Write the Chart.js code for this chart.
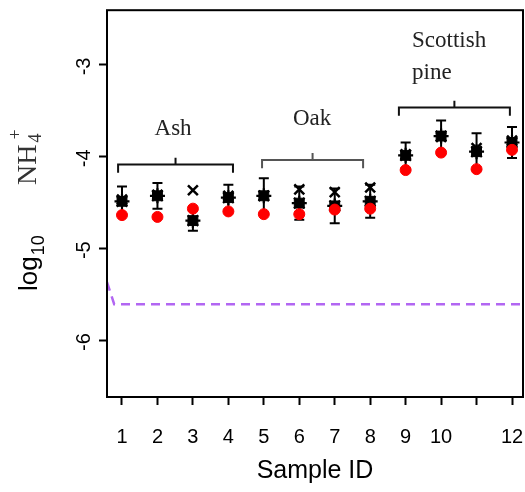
<!DOCTYPE html>
<html><head><meta charset="utf-8">
<script src="https://cdn.jsdelivr.net/npm/chart.js@4.4.1/dist/chart.umd.min.js"></script>
<style>html,body{margin:0;padding:0;background:#fff}#wrap{width:525px;height:492px}</style>
</head><body><div id="wrap"><canvas id="c" width="525" height="492"></canvas></div>
<script>
// ---- data ----
const sampleIds = [1,2,3,4,5,6,7,8,9,10,11,12];
const xTickLabels = ['1','2','3','4','5','6','7','8','9','10','','12'];
const yTickValues = [-3,-4,-5,-6];
const meanValues  = [-4.49,-4.43,-4.70,-4.45,-4.43,-4.51,-4.54,-4.49,-3.99,-3.78,-3.95,-3.85];
const errorValues = [0.16,0.14,0.11,0.14,0.19,0.18,0.19,0.18,0.14,0.17,0.20,0.17];
const crossValues = [-4.47,-4.42,-4.37,-4.43,-4.43,-4.36,-4.39,-4.34,-3.98,-3.79,-3.91,-3.83];
const redValues   = [-4.64,-4.66,-4.57,-4.60,-4.63,-4.63,-4.58,-4.57,-4.15,-3.96,-4.14,-3.93];
const baselineX = [0.577,0.78,12.31];
const baselineY = [-5.37,-5.61,-5.61];
const groupNames = ['Ash','Oak','Scottish pine'];
const groupRanges = [[0.89,4.13],[4.95,7.80],[8.81,11.94]];
const groupBracketY = [-4.09,-4.04,-3.47];

// ---- annotation layout (in data units) ----
const bracketEndDrop = 0.09, bracketMidRise = 0.075;
const groupLabelPos = [{x:2.44,y:-3.70,align:'center'},{x:6.36,y:-3.59,align:'center'},{x:9.18,y:-2.74,align:'left'}];
const bracketColors = ['#111','#555','#111'];

const pts = (ys)=>sampleIds.map((x,i)=>({x:x,y:ys[i]}));

const overlay = {
  id:'overlay',
  beforeDatasetsDraw(chart){
    const {ctx, scales:{x,y}} = chart;
    ctx.save();
    ctx.strokeStyle='#000'; ctx.lineWidth=2;
    sampleIds.forEach((s,i)=>{
      const px = x.getPixelForValue(s);
      const yt = y.getPixelForValue(meanValues[i]+errorValues[i]);
      const yb = y.getPixelForValue(meanValues[i]-errorValues[i]);
      ctx.beginPath();
      ctx.moveTo(px,yt); ctx.lineTo(px,yb);
      ctx.moveTo(px-5,yt); ctx.lineTo(px+5,yt);
      ctx.moveTo(px-5,yb); ctx.lineTo(px+5,yb);
      ctx.stroke();
    });
    ctx.restore();
  },
  afterDraw(chart){
    const {ctx, chartArea:a, scales:{x,y}} = chart;
    ctx.save();
    // box
    ctx.strokeStyle='#000'; ctx.lineWidth=2;
    ctx.strokeRect(a.left, a.top, a.right-a.left, a.bottom-a.top);
    // brackets
    groupRanges.forEach((r,i)=>{
      const x0=x.getPixelForValue(r[0]), x1=x.getPixelForValue(r[1]);
      const xm=(x0+x1)/2;
      const yh=y.getPixelForValue(groupBracketY[i]);
      const ye=y.getPixelForValue(groupBracketY[i]-bracketEndDrop);
      const ym=y.getPixelForValue(groupBracketY[i]+bracketMidRise);
      ctx.strokeStyle=bracketColors[i]; ctx.lineWidth=2;
      ctx.beginPath();
      ctx.moveTo(x0,ye); ctx.lineTo(x0,yh); ctx.lineTo(x1,yh); ctx.lineTo(x1,ye);
      ctx.moveTo(xm,yh); ctx.lineTo(xm,ym);
      ctx.stroke();
    });
    // group labels
    ctx.fillStyle='#222';
    ctx.font='23px "Liberation Serif", "DejaVu Serif", serif';
    ctx.textBaseline='middle';
    groupNames.forEach((n,i)=>{
      const p=groupLabelPos[i];
      ctx.textAlign=p.align;
      const parts=n.split(' ');
      if(parts.length>1 && i===2){
        ctx.fillText(parts[0], x.getPixelForValue(p.x), y.getPixelForValue(p.y));
        ctx.fillText(parts[1], x.getPixelForValue(p.x), y.getPixelForValue(p.y)+32);
      } else {
        ctx.fillText(n, x.getPixelForValue(p.x), y.getPixelForValue(p.y));
      }
    });
    // x tick labels
    ctx.fillStyle='#000';
    ctx.font='20px "Liberation Sans", Arial, sans-serif';
    ctx.textAlign='center'; ctx.textBaseline='middle';
    sampleIds.forEach((s,i)=>{
      ctx.fillText(xTickLabels[i], x.getPixelForValue(s), a.bottom+40);
    });
    // y tick labels (rotated)
    yTickValues.forEach(v=>{
      const py=y.getPixelForValue(v);
      ctx.save(); ctx.translate(84,py+2); ctx.rotate(-Math.PI/2);
      ctx.fillText(String(v),0,0); ctx.restore();
    });
    // y axis title
    ctx.save();
    ctx.translate(37, 291); ctx.rotate(-Math.PI/2);
    ctx.textAlign='left'; ctx.textBaseline='alphabetic';
    ctx.font='26px "Liberation Sans", Arial, sans-serif';
    ctx.fillText('log',0,0);
    let w=ctx.measureText('log').width;
    ctx.font='18px "Liberation Sans", Arial, sans-serif';
    ctx.fillText('10',w+1,7);
    ctx.fillStyle='#333';
    ctx.font='28px "Liberation Serif", "DejaVu Serif", serif';
    const nx=106;
    ctx.fillText('NH',nx,-1);
    let w2=ctx.measureText('NH').width;
    ctx.font='18px "Liberation Serif", "DejaVu Serif", serif';
    ctx.fillText('4',nx+w2+2,4);
    ctx.fillText('+',nx+w2+5,-16);
    ctx.restore();
    ctx.restore();
  }
};

new Chart(document.getElementById('c'),{
  type:'scatter',
  data:{datasets:[
    {label:'red', data:pts(redValues), pointStyle:'circle', pointRadius:5.5, backgroundColor:'#ff0000', borderColor:'#ff0000', borderWidth:1, order:0},
    {label:'mean', data:pts(meanValues), pointStyle:'rect', pointRadius:7, backgroundColor:'#000', borderColor:'#000', borderWidth:1, order:1},
    {label:'star', data:pts(meanValues), pointStyle:'star', pointRadius:7.5, backgroundColor:'#000', borderColor:'#000', borderWidth:2.2, order:2},
    {label:'cross', data:pts(crossValues), pointStyle:'crossRot', pointRadius:7, backgroundColor:'#000', borderColor:'#000', borderWidth:2.5, order:3},
    {label:'base', type:'line', data:baselineX.map((xv,i)=>({x:xv,y:baselineY[i]})), borderColor:'#b266f2', borderWidth:2.5, borderDash:[9,6], pointRadius:0, showLine:true, fill:false, order:4}
  ]},
  options:{
    responsive:false, animation:false, devicePixelRatio:1,
    layout:{autoPadding:false, padding:{top:10,right:2,left:0,bottom:0}},
    plugins:{legend:{display:false}, tooltip:{enabled:false}},
    scales:{
      x:{type:'linear', min:0.577, max:12.31,
        afterBuildTicks:(s)=>{s.ticks=sampleIds.map(v=>({value:v}));},
        afterFit:(s)=>{s.height=95;},
        ticks:{autoSkip:false, maxRotation:0, callback:()=>''},
        grid:{drawOnChartArea:false, drawTicks:true, tickLength:8, tickColor:'#000', tickWidth:2},
        border:{display:false},
        title:{display:true, text:'Sample ID', color:'#000', padding:{top:0,bottom:6},
          font:{family:'"Liberation Sans", Arial, sans-serif', size:25}}
      },
      y:{type:'linear', min:-6.62, max:-2.41,
        afterBuildTicks:(s)=>{s.ticks=yTickValues.map(v=>({value:v}));},
        afterFit:(s)=>{s.width=107;},
        ticks:{callback:()=>''},
        grid:{drawOnChartArea:false, drawTicks:true, tickLength:8, tickColor:'#000', tickWidth:2},
        border:{display:false}
      }
    }
  },
  plugins:[overlay]
});
</script></body></html>
